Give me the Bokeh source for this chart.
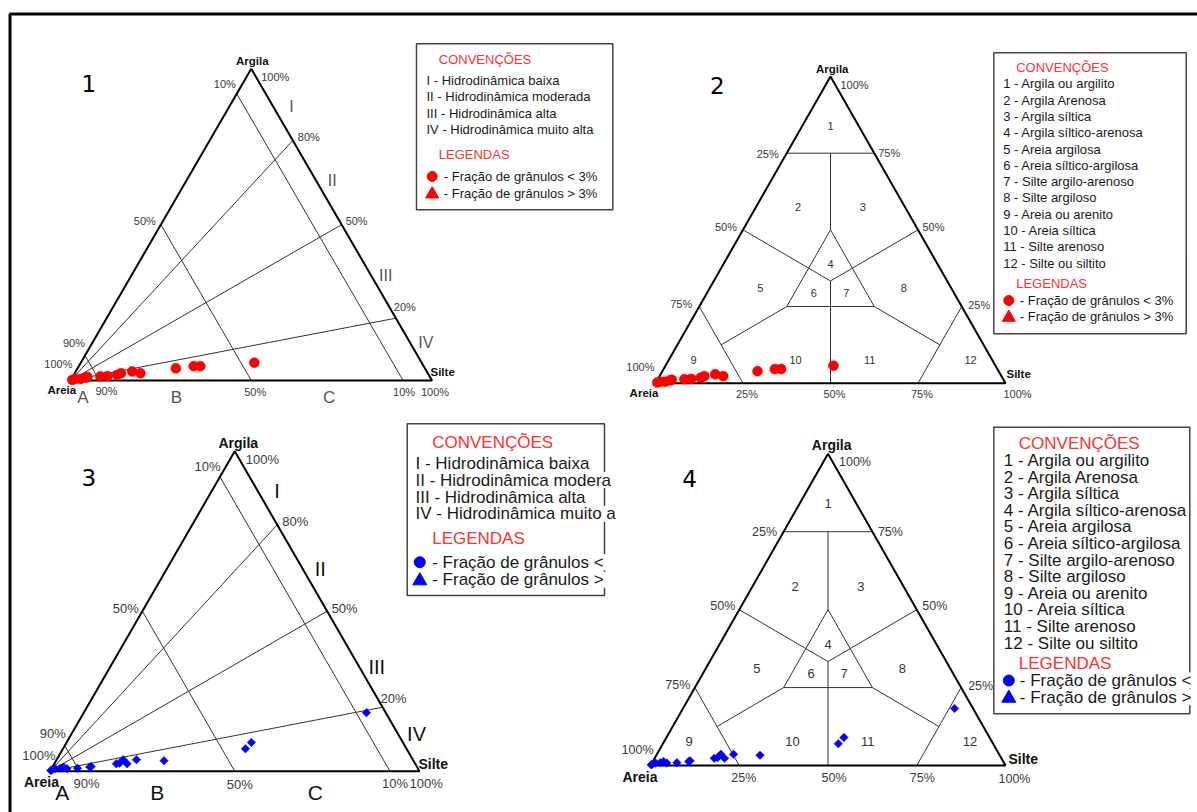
from bokeh.plotting import figure
from bokeh.models import Range1d
from bokeh.core.properties import value
from bokeh.embed import file_html
from bokeh.resources import INLINE

FONT = "Liberation Sans"
NUM_FONT = "DejaVu Sans"

# ---------------- sample data (percent) ----------------
# panels 1 and 2 (red samples)
red_sand = [99.4, 98.4, 97.0, 95.4, 94.8, 91.1, 89.1, 86.2, 84.9, 81.5, 79.5, 68.9, 63.6, 61.8, 46.3]
red_silt = [0.4, 1.1, 2.5, 3.7, 4.1, 7.6, 9.5, 12.0, 12.8, 15.6, 18.2, 27.2, 31.8, 33.6, 48.0]
red_clay = [0.2, 0.5, 0.5, 0.9, 1.1, 1.3, 1.4, 1.8, 2.3, 2.9, 2.3, 3.9, 4.6, 4.6, 5.7]
# panels 3 and 4 (blue samples)
blue_sand = [99.7, 99.3, 98.2, 96.8, 95.7, 95.0, 92.1, 88.6, 88.1, 80.9, 79.9, 78.4, 78.0, 74.8, 67.5, 43.6, 41.0, 5.2]
blue_silt = [0.1, 0.3, 1.0, 2.3, 3.0, 4.2, 7.0, 10.1, 10.4, 16.8, 17.6, 18.0, 19.7, 21.6, 29.2, 49.4, 50.0, 76.5]
blue_clay = [0.2, 0.4, 0.8, 0.9, 1.3, 0.8, 0.9, 1.3, 1.5, 2.3, 2.5, 3.6, 2.3, 3.6, 3.3, 7.0, 9.0, 18.3]

# ---------------- Pejrup diagram (panels 1, 3) ----------------
pejrup_sand_lines = [92, 50, 8]        # sand lines labelled 90 %, 50 %, 10 %
pejrup_ratio_clay = [77, 50, 20]       # fan lines from the sand corner, labelled 80 %, 50 %, 20 %
pejrup_classes = ["I", "II", "III", "IV"]
pejrup_class_pos = [(0, 11.5, 88.5), (0, 36.5, 63.5), (0, 65, 35), (0, 90, 10)]
pejrup_zones = ["A", "B", "C"]
pejrup_zone_pos = [(96, 4, 0), (71, 29, 0), (29, 71, 0)]

# ---------------- Shepard diagram (panels 2, 4) ----------------
C3 = 100 / 3
shepard_lines = [
    [(25, 0, 75), (0, 25, 75)],
    [(12.5, 12.5, 75), (25, 25, 50)],
    [(25, 25, 50), (50, 25, 25), (25, 50, 25), (25, 25, 50)],
    [(50, 0, 50), (C3, C3, C3)],
    [(0, 50, 50), (C3, C3, C3)],
    [(C3, C3, C3), (50, 50, 0)],
    [(50, 25, 25), (75, 12.5, 12.5)],
    [(25, 50, 25), (12.5, 75, 12.5)],
    [(75, 0, 25), (75, 25, 0)],
    [(0, 75, 25), (25, 75, 0)],
]
shepard_ids = ["1", "2", "3", "4", "5", "6", "7", "8", "9", "10", "11", "12"]
shepard_pos = [(8, 8, 84), (30.5, 12, 57.5), (12, 30.5, 57.5), (30.6, 30.6, 38.8),
               (54.5, 14.4, 31.1), (40, 30.5, 29.5), (30.7, 39.8, 29.5), (13.5, 55.4, 31.1),
               (85.3, 7.1, 7.6), (56.2, 36.2, 7.6), (35, 57.4, 7.6), (6.2, 86.2, 7.6)]

# ---------------- legend texts ----------------
conv_title = "CONVENÇÕES"
leg_title = "LEGENDAS"
pejrup_conv = ["I - Hidrodinâmica baixa", "II - Hidrodinâmica moderada",
               "III - Hidrodinâmica alta", "IV - Hidrodinâmica muito alta"]
pejrup_conv_cut = ["I - Hidrodinâmica baixa", "II - Hidrodinâmica modera",
                   "III - Hidrodinâmica alta", "IV - Hidrodinâmica muito a"]
shepard_conv = ["1 - Argila ou argilito", "2 - Argila Arenosa", "3 - Argila síltica",
                "4 - Argila síltico-arenosa", "5 - Areia argilosa", "6 - Areia síltico-argilosa",
                "7 - Silte argilo-arenoso", "8 - Silte argiloso", "9 - Areia ou arenito",
                "10 - Areia síltica", "11 - Silte arenoso", "12 - Silte ou siltito"]
leg_rows = ["- Fração de grânulos < 3%", "- Fração de grânulos > 3%"]
leg_rows_cut = ["- Fração de grânulos <", "- Fração de grânulos >"]

# ---------------- layout ----------------
TRI = {
    1: dict(x0=70, y0=380, w=361.5, h=311.7),
    2: dict(x0=655, y0=382.7, w=350, h=306.7),
    3: dict(x0=49.5, y0=770.7, w=369.5, h=320),
    4: dict(x0=650, y0=765, w=355, h=311.7),
}

W, H = 1197, 812
p = figure(width=W, height=H, x_range=Range1d(0, W), y_range=Range1d(H, 0),
           output_backend="svg", toolbar_location=None, min_border=0)
p.axis.visible = False
p.grid.visible = False
p.outline_line_color = None
p.background_fill_color = "white"
p.border_fill_color = "white"


def tx(t, s, si, c):
    return t["x0"] + t["w"] * (si + c / 2) / 100


def ty(t, s, si, c):
    return t["y0"] - t["h"] * c / 100


def txt(xs, ys, texts, size, color="#1a1a1a", align="left", style="normal", font=FONT):
    p.text(x=xs, y=ys, text=texts, text_font=value(font), text_font_size=size,
           text_color=color, text_align=align, text_baseline="middle", text_font_style=style)


def labels(t, items, size, color, style="normal"):
    for (s, pos, dx, dy, al) in items:
        txt([tx(t, *pos) + dx], [ty(t, *pos) + dy], [s], size, color, al, style)


# outer frame (open right / bottom)
p.line([9.5, 9.5, W], [H, 13.5, 13.5], line_color="black", line_width=3)


def outline(t):
    corners = [(100, 0, 0), (0, 100, 0), (0, 0, 100), (100, 0, 0)]
    p.line([tx(t, *c) for c in corners], [ty(t, *c) for c in corners],
           line_color="black", line_width=2)


def pejrup(t):
    xs, ys = [], []
    for sd in pejrup_sand_lines:
        a, b = (sd, 100 - sd, 0), (sd, 0, 100 - sd)
        xs.append([tx(t, *a), tx(t, *b)]); ys.append([ty(t, *a), ty(t, *b)])
    for c in pejrup_ratio_clay:
        a, b = (100, 0, 0), (0, 100 - c, c)
        xs.append([tx(t, *a), tx(t, *b)]); ys.append([ty(t, *a), ty(t, *b)])
    p.multi_line(xs, ys, line_color="#333333", line_width=1)
    outline(t)


def shepard(t):
    xs = [[tx(t, *q) for q in ln] for ln in shepard_lines]
    ys = [[ty(t, *q) for q in ln] for ln in shepard_lines]
    p.multi_line(xs, ys, line_color="#333333", line_width=1)
    outline(t)


def samples(t, sand, silt, clay, color, marker, size, angle=0.0):
    xs = [tx(t, a, b, c) for a, b, c in zip(sand, silt, clay)]
    ys = [ty(t, a, b, c) for a, b, c in zip(sand, silt, clay)]
    p.scatter(xs, ys, marker=marker, size=size, angle=angle,
              fill_color=color, line_color=color, line_width=0.5)


# ================= panel 1 =================
t = TRI[1]
pejrup(t)
labels(t, [("100%", (100, 0, 0), 2, -17, "right"), ("90%", (92, 0, 8), 0, -13, "right"),
           ("50%", (50, 0, 50), -5, -4, "right"), ("10%", (8, 0, 92), -1, -10, "right"),
           ("100%", (0, 0, 100), 10, 8, "left"), ("80%", (0, 23, 77), 5, -3, "left"),
           ("50%", (0, 50, 50), 4, -4, "left"), ("20%", (0, 80, 20), -2, -11, "left"),
           ("100%", (0, 100, 0), -11, 11, "left"), ("10%", (8, 92, 0), 1, 11, "center"),
           ("50%", (50, 50, 0), 4, 11, "center"), ("90%", (92, 8, 0), 7, 10, "center")],
       "11px", "#3a3a3a")
labels(t, [("Argila", (0, 0, 100), 1, -8, "center"), ("Silte", (0, 100, 0), -1.5, -9, "left"),
           ("Areia", (100, 0, 0), -8.7, 9, "center")], "11.5px", "#111111", "bold")
labels(t, [(n, pos, dx, dy, "center") for n, pos, (dx, dy) in
           zip(pejrup_classes, pejrup_class_pos, [(19.5, 2), (15, -2), (17, 4), (12, -7)])],
       "16px", "#555555")
labels(t, [(n, pos, dx, 17, "center") for n, pos, dx in zip(pejrup_zones, pejrup_zone_pos, [-2, 1, 2])],
       "17px", "#555555")
txt([tx(t, 0, 0, 100) - 162.4], [ty(t, 0, 0, 100) + 15], ["1"], "23px", "black", "center", font=NUM_FONT)
samples(t, red_sand, red_silt, red_clay, "#ff0000", "circle", 10)

# ================= panel 2 =================
t = TRI[2]
shepard(t)
labels(t, [("25%", (25, 0, 75), -8, 0.5, "right"), ("50%", (50, 0, 50), -6, -3, "right"),
           ("75%", (75, 0, 25), -7, -3, "right"), ("100%", (100, 0, 0), -1, -16, "right"),
           ("100%", (0, 0, 100), 10, 8, "left"), ("75%", (0, 25, 75), 4, 0, "left"),
           ("50%", (0, 50, 50), 4.5, -3, "left"), ("25%", (0, 75, 25), 6.5, -2, "left"),
           ("25%", (75, 25, 0), 4, 10.6, "center"), ("50%", (50, 50, 0), 4, 10.6, "center"),
           ("75%", (25, 75, 0), 4, 10.6, "center"), ("100%", (0, 100, 0), -2, 10.6, "left")],
       "11px", "#3a3a3a")
labels(t, [("Argila", (0, 0, 100), 1.7, -8, "center"), ("Silte", (0, 100, 0), 1, -9.5, "left"),
           ("Areia", (100, 0, 0), -11.5, 10, "center")], "11.5px", "#111111", "bold")
labels(t, [(n, pos, 0, 0, "center") for n, pos in zip(shepard_ids, shepard_pos)], "11px", "#333333")
txt([tx(t, 0, 0, 100) - 113.3], [ty(t, 0, 0, 100) + 9], ["2"], "23px", "black", "center", font=NUM_FONT)
samples(t, red_sand, red_silt, red_clay, "#ff0000", "circle", 10)

# ================= panel 3 =================
t = TRI[3]
pejrup(t)
labels(t, [("100%", (100, 0, 0), 5.5, -16, "right"), ("90%", (92, 0, 8), 1, -12, "right"),
           ("50%", (50, 0, 50), -3.5, -2.5, "right"), ("10%", (8, 0, 92), 0.5, -10, "right"),
           ("100%", (0, 0, 100), 11, 8.6, "left"), ("80%", (0, 23, 77), 5, -3, "left"),
           ("50%", (0, 50, 50), 4.5, -2.5, "left"), ("20%", (0, 80, 20), -2, -9, "left"),
           ("100%", (0, 100, 0), -10, 12.6, "left"), ("10%", (8, 92, 0), 5, 12.6, "center"),
           ("50%", (50, 50, 0), 5, 13.6, "center"), ("90%", (92, 8, 0), 7, 12, "center")],
       "13px", "#3a3a3a")
labels(t, [("Argila", (0, 0, 100), 3.5, -8, "center"), ("Silte", (0, 100, 0), -1, -7, "left"),
           ("Areia", (100, 0, 0), -26, 11, "left")], "14px", "#111111", "bold")
labels(t, [(n, pos, dx, dy, "center") for n, pos, (dx, dy) in
           zip(pejrup_classes, pejrup_class_pos, [(21, 2.5), (18, 1), (22, 8), (15.5, -5)])],
       "20px", "#111111")
labels(t, [(n, pos, dx, 21, "center") for n, pos, dx in zip(pejrup_zones, pejrup_zone_pos, [-2.5, 0, 3])],
       "21px", "#111111")
txt([tx(t, 0, 0, 100) - 146], [ty(t, 0, 0, 100) + 26.6], ["3"], "23px", "black", "center", font=NUM_FONT)
samples(t, blue_sand, blue_silt, blue_clay, "#0000ff", "square", 6, 0.785)

# ================= panel 4 =================
t = TRI[4]
shepard(t)
labels(t, [("25%", (25, 0, 75), -6.5, 0, "right"), ("50%", (50, 0, 50), -4, -3.5, "right"),
           ("75%", (75, 0, 25), -4.5, -3, "right"), ("100%", (100, 0, 0), 3, -15.7, "right"),
           ("100%", (0, 0, 100), 11, 7.7, "left"), ("75%", (0, 25, 75), 5.5, 0, "left"),
           ("50%", (0, 50, 50), 5.5, -3.5, "left"), ("25%", (0, 75, 25), 7, -1.5, "left"),
           ("25%", (75, 25, 0), 4.5, 12.7, "center"), ("50%", (50, 50, 0), 6, 12.7, "center"),
           ("75%", (25, 75, 0), 5.5, 12.7, "center"), ("100%", (0, 100, 0), -7, 13, "left")],
       "12.5px", "#3a3a3a")
labels(t, [("Argila", (0, 0, 100), 3.7, -9, "center"), ("Silte", (0, 100, 0), 3, -6.7, "left"),
           ("Areia", (100, 0, 0), -10.5, 11, "center")], "14px", "#111111", "bold")
labels(t, [(n, pos, 0, 0, "center") for n, pos in zip(shepard_ids, shepard_pos)], "13px", "#333333")
txt([tx(t, 0, 0, 100) - 138.5], [ty(t, 0, 0, 100) + 25], ["4"], "23px", "black", "center", font=NUM_FONT)
samples(t, blue_sand, blue_silt, blue_clay, "#0000ff", "square", 6, 0.785)

# ================= legend boxes =================
RED_T = "#ff3030"
BOX = "#444444"


def box(l, r, tp, b):
    p.quad(left=[l], right=[r], top=[tp], bottom=[b], fill_color="white", fill_alpha=0,
           line_color=BOX, line_width=1.5)


def legend_box(rect, title_xy, rows_x, rows_y0, dy, rows, leg_y, mk_x, txt_x, leg_rows_t,
               size, color, mk_size, mask=None):
    box(*rect)
    txt([title_xy[0]], [title_xy[1]], [conv_title], size, RED_T)
    ys = [rows_y0 + dy * i for i in range(len(rows))]
    if mask:
        for i in mask[0]:
            p.quad(left=[mask[1]], right=[mask[2]], top=[ys[i] - 8], bottom=[ys[i] + 8],
                   fill_color="white", line_color=None)
    txt([rows_x] * len(rows), ys, rows, size, "#1a1a1a")
    txt([title_xy[0]], [leg_y[0]], [leg_title], size, RED_T)
    if mask:
        for yy in leg_y[1:]:
            p.quad(left=[mask[1]], right=[mask[2]], top=[yy - 8], bottom=[yy + 8],
                   fill_color="white", line_color=None)
    p.scatter([mk_x], [leg_y[1]], marker="circle", size=mk_size, fill_color=color, line_color=color)
    p.scatter([mk_x], [leg_y[2] + 1], marker="triangle", size=mk_size + 3, fill_color=color, line_color=color)
    txt([txt_x, txt_x], leg_y[1:], leg_rows_t, size, "#1a1a1a")


legend_box((416, 612.3, 43.3, 209.3), (438.3, 59), 426, 80, 16.4, pejrup_conv,
           (154, 176, 192.7), 431.7, 443.3, leg_rows, "13px", "#ff0000", 10)
legend_box((993.3, 1185.7, 52.3, 333.3), (1015.7, 66.7), 1002.7, 83.3, 16.3, shepard_conv,
           (283.3, 300, 316), 1008.3, 1019.3, leg_rows, "13px", "#ff0000", 10)
legend_box((406.7, 604, 423.3, 595), (431.7, 441.7), 415, 462.7, 16.9, pejrup_conv_cut,
           (538.3, 561.7, 579.3), 419.3, 431.7, leg_rows_cut, "17px", "#0000ff", 11,
           mask=([1, 3], 599, 609))
legend_box((993.3, 1189.3, 426.7, 713.3), (1018.3, 442.7), 1003.3, 460, 16.6, shepard_conv,
           (663.3, 680, 696.7), 1008.3, 1019.3, leg_rows_cut, "17px", "#0000ff", 11,
           mask=([], 1184, 1195))

open("out.html", "w").write(file_html(p, INLINE))
